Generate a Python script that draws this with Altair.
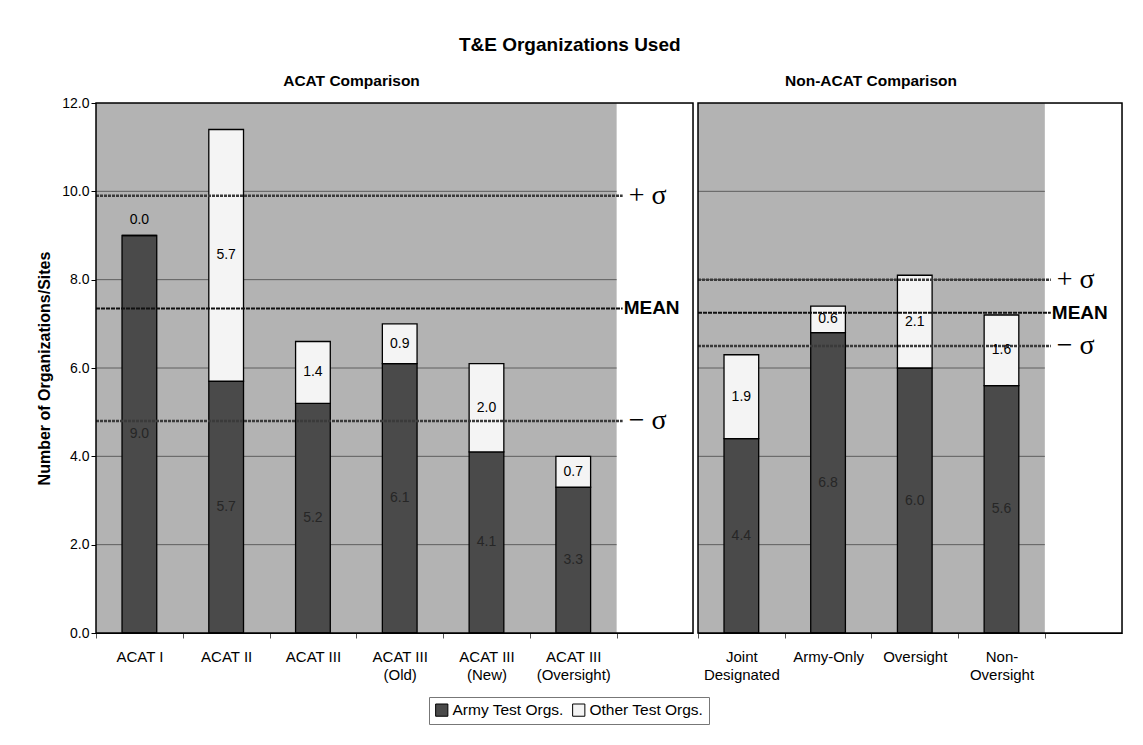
import json
import altair as alt
import pandas as pd

FONT = "Liberation Sans"

# ---- data ----
acat_categories = [["ACAT I"], ["ACAT II"], ["ACAT III"], ["ACAT III", "(Old)"],
                   ["ACAT III", "(New)"], ["ACAT III", "(Oversight)"]]
acat_army = [9.0, 5.7, 5.2, 6.1, 4.1, 3.3]
acat_other = [0.0, 5.7, 1.4, 0.9, 2.0, 0.7]
acat_ref_values = [9.9, 7.35, 4.8]

non_categories = [["Joint", "Designated"], ["Army-Only"], ["Oversight"], ["Non-", "Oversight"]]
non_army = [4.4, 6.8, 6.0, 5.6]
non_other = [1.9, 0.6, 2.1, 1.6]
non_ref_values = [8.0, 7.25, 6.5]

ref_labels = ["+ σ", "MEAN", "− σ"]
series = ["Army Test Orgs.", "Other Test Orgs."]
series_colors = ["#4a4a4a", "#f4f4f4"]
y_ticks = [0, 2, 4, 6, 8, 10, 12]
Y_MAX = 12


def panel(cats, army, other, refs, title, width, x_max, show_y, title_dx, title_offset):
    n = len(cats)
    rows = []
    for i, (a, o) in enumerate(zip(army, other)):
        rows.append({"xa": i + 0.3, "xb": i + 0.7, "series": series[0], "y0": 0.0, "y1": a,
                     "label": f"{a:.1f}", "ly": a / 2, "kind": "army"})
        rows.append({"xa": i + 0.3, "xb": i + 0.7, "series": series[1], "y0": a, "y1": a + o,
                     "label": f"{o:.1f}", "ly": (a + o / 2) if o >= 0.3 else a + 0.35, "kind": "other"})
    bars_df = pd.DataFrame(rows)
    bg_df = pd.DataFrame({"x0": [0], "x1": [n], "y0": [0], "y1": [Y_MAX]})
    frame_df = pd.DataFrame({"x0": [0], "x1": [x_max], "y0": [0], "y1": [Y_MAX]})
    grid_df = pd.DataFrame({"x0": 0, "x1": n, "y": [t for t in y_ticks if 0 < t < Y_MAX]})
    ref_df = pd.DataFrame({"x0": 0, "x1": n, "y": refs, "label": ref_labels})

    xscale = alt.Scale(domain=[0, x_max], nice=False, zero=False)
    yscale = alt.Scale(domain=[0, Y_MAX], nice=False)
    label_arr = json.dumps(cats)
    xaxis = alt.Axis(
        values=[k * 0.5 for k in range(2 * n + 1)],
        labelExpr=f"(datum.value % 1) > 0.25 ? {label_arr}[floor(datum.value)] : ''",
        tickOpacity={"condition": {"test": "(datum.value % 1) < 0.25", "value": 1}, "value": 0},
        title=None, grid=False, labelOverlap=False, labelFlush=False, labelBound=False,
        labelFontSize=15, labelFont=FONT, labelColor="black", labelPadding=11,
        labelLineHeight=18, tickColor="#555", tickSize=5, domainColor="black",
        labelBaseline="top",
    )
    if show_y:
        yaxis = alt.Axis(values=y_ticks, format=".1f", title="Number of Organizations/Sites",
                         titleFontSize=16, titleFont=FONT, titleFontWeight="bold",
                         titleColor="black", titlePadding=9, labelFontSize=14,
                         labelFont=FONT, labelColor="black", tickColor="black",
                         tickSize=5, domainColor="black", grid=False)
    else:
        yaxis = None

    def X(f):
        return alt.X(f, type="quantitative", scale=xscale, axis=xaxis)

    def Y(f):
        return alt.Y(f, type="quantitative", scale=yscale, axis=yaxis)

    bg = alt.Chart(bg_df).mark_rect(color="#b3b3b3").encode(
        x=X("x0"), x2="x1", y=Y("y0"), y2="y1")
    grid = alt.Chart(grid_df).mark_rule(color="#5e5e5e", strokeWidth=1).encode(
        x=X("x0"), x2="x1", y=Y("y"))
    bars = alt.Chart(bars_df).mark_bar(stroke="black", strokeWidth=1.3).encode(
        x=X("xa"), x2="xb", y=Y("y0"), y2="y1",
        color=alt.Color("series:N", scale=alt.Scale(domain=series, range=series_colors),
                        legend=alt.Legend(title=None, orient="none", direction="horizontal",
                                          legendX=333, legendY=594, strokeColor="#777",
                                          fillColor="white", padding=5,
                                          symbolType="square", symbolSize=150,
                                          symbolStrokeColor="black", symbolStrokeWidth=1,
                                          labelFontSize=15.5, labelFont=FONT,
                                          labelColor="black", columnPadding=6,
                                          symbolOffset=0, labelOffset=3)))
    sig_lines = alt.Chart(ref_df).transform_filter("datum.label != 'MEAN'").mark_rule(
        color="#3a3a3a", strokeWidth=2.5, strokeDash=[3, 1], x2Offset=6).encode(
        x=X("x0"), x2="x1", y=Y("y"))
    mean_line = alt.Chart(ref_df).transform_filter("datum.label == 'MEAN'").mark_rule(
        color="#111", strokeWidth=2, strokeDash=[4, 1], x2Offset=6).encode(
        x=X("x0"), x2="x1", y=Y("y"))
    sig_text = alt.Chart(ref_df).transform_filter("datum.label != 'MEAN'").mark_text(
        align="left", baseline="middle", dx=12, fontSize=28, font="Liberation Serif",
        color="black").encode(x=X("x1"), y=Y("y"), text="label:N")
    mean_text = alt.Chart(ref_df).transform_filter("datum.label == 'MEAN'").mark_text(
        align="left", baseline="middle", dx=7, fontSize=19, font=FONT, fontWeight="bold",
        color="black").encode(x=X("x1"), y=Y("y"), text="label:N")
    vals = alt.Chart(bars_df).mark_text(fontSize=14, font=FONT, baseline="middle").encode(
        x=alt.X("xm:Q", scale=xscale, axis=xaxis), y=Y("ly"), text="label:N",
        color=alt.condition("datum.kind == 'army'", alt.value("#262626"), alt.value("black")),
    ).transform_calculate(xm="(datum.xa + datum.xb) / 2")
    frame = alt.Chart(frame_df).mark_rect(fill=None, fillOpacity=0, stroke="black",
                                          strokeWidth=1.5).encode(
        x=X("x0"), x2="x1", y=Y("y0"), y2="y1")

    return alt.layer(bg, grid, bars, sig_lines, mean_line, sig_text, mean_text, vals,
                     frame).properties(
        width=width, height=530,
        title=alt.TitleParams(title, fontSize=15.5, font=FONT, fontWeight="bold",
                              color="black", dx=title_dx, offset=title_offset,
                              anchor="middle", frame="group"))


left = panel(acat_categories, acat_army, acat_other, acat_ref_values, "ACAT Comparison",
             597, 6.88, True, -43, 7)
right = panel(non_categories, non_army, non_other, non_ref_values, "Non-ACAT Comparison",
              424, 4.89, False, -39, 13)

chart = alt.hconcat(left, right, spacing=1).resolve_scale(color="shared").properties(
    title=alt.TitleParams("T&E Organizations Used", fontSize=19, font=FONT, fontWeight="bold",
                          color="black", anchor="middle", offset=18, dx=-10),
    padding={"left": 28, "top": 28, "right": 5, "bottom": 5},
    background="white",
).configure_view(stroke="black", strokeWidth=1.5).configure(font=FONT)

chart.save("out.html", embed_options={"renderer": "svg", "actions": False})
